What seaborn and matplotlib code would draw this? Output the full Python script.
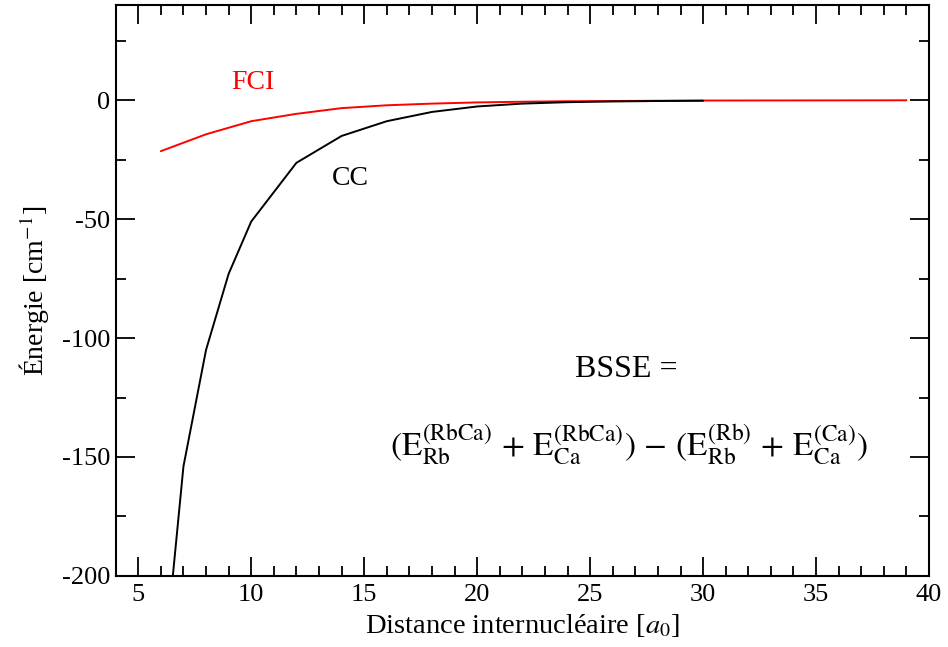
import matplotlib
matplotlib.use("Agg")
import matplotlib.pyplot as plt
import seaborn as sns
import pandas as pd
from matplotlib.ticker import MultipleLocator

# Data
cc_x = [6, 7, 8, 9, 10, 12, 14, 16, 18, 20, 22, 24, 26, 28, 30]
cc_y = [-252, -154, -105, -73, -51, -26.3, -15, -8.8, -4.9, -2.6, -1.4, -0.8, -0.5, -0.3, -0.2]
fci_x = [6, 8, 10, 12, 14, 16, 18, 20, 22, 24, 26, 28, 30, 35, 39]
fci_y = [-21.4, -14.3, -8.8, -5.7, -3.3, -2.1, -1.4, -0.9, -0.6, -0.4, -0.3, -0.2, -0.1, -0.05, 0.0]

x_ticks = [5, 10, 15, 20, 25, 30, 35, 40]
y_ticks = [-200, -150, -100, -50, 0]

sns.set_style("ticks")
plt.rcParams["font.family"] = ["Liberation Serif", "DejaVu Serif"]
plt.rcParams["mathtext.fontset"] = "stix"
plt.rcParams["axes.unicode_minus"] = False
plt.rcParams["text.color"] = "black"
plt.rcParams["axes.labelcolor"] = "black"
plt.rcParams["xtick.color"] = "black"
plt.rcParams["ytick.color"] = "black"
plt.rcParams["axes.edgecolor"] = "black"

df_cc = pd.DataFrame({"x": cc_x, "y": cc_y})
df_fci = pd.DataFrame({"x": fci_x, "y": fci_y})

fig = plt.figure(figsize=(9.48, 6.47), dpi=100)
ax = fig.add_axes([0.122, 0.110, 0.858, 0.882])

sns.lineplot(data=df_fci, x="x", y="y", ax=ax, color="#ff0000", linewidth=1.4, sort=False, estimator=None)
sns.lineplot(data=df_cc, x="x", y="y", ax=ax, color="black", linewidth=1.4, sort=False, estimator=None)

ax.set_xlim(4, 40)
ax.set_ylim(-200, 40)
ax.set_xticks(x_ticks)
ax.set_yticks(y_ticks)
ax.xaxis.set_minor_locator(MultipleLocator(1))
ax.yaxis.set_minor_locator(MultipleLocator(25))
ax.tick_params(which="both", direction="in", top=True, right=True, width=1.3,
               labelsize=19, colors="black")
ax.tick_params(axis="x", pad=6)
ax.tick_params(axis="y", pad=4)
ax.tick_params(which="major", length=14)
ax.tick_params(which="minor", length=7)
for s in ax.spines.values():
    s.set_linewidth(1.5)
    s.set_visible(True)
    s.set_color("black")

ax.set_xlabel(r"Distance internucléaire [$a_0$]", fontsize=20.5, labelpad=4)
ax.set_ylabel(r"Énergie [cm$^{-1}$]", fontsize=20, labelpad=8)

ax.text(10.06, 7.6, "FCI", color="#ff0000", fontsize=20, ha="center", va="center")
ax.text(14.37, -32.8, "CC", color="black", fontsize=20, ha="center", va="center")
ax.text(26.6, -113.4, "BSSE =", fontsize=23, ha="center", va="center")
ax.text(26.7, -145,
        r"$(\mathrm{E}_{\mathrm{Rb}}^{(\mathrm{RbCa})}\,+\,\mathrm{E}_{\mathrm{Ca}}^{(\mathrm{RbCa})})\,-\,(\mathrm{E}_{\mathrm{Rb}}^{(\mathrm{Rb})}\,+\,\mathrm{E}_{\mathrm{Ca}}^{(\mathrm{Ca})})$",
        fontsize=24, ha="center", va="center")

fig.savefig("out.png", dpi=100)
